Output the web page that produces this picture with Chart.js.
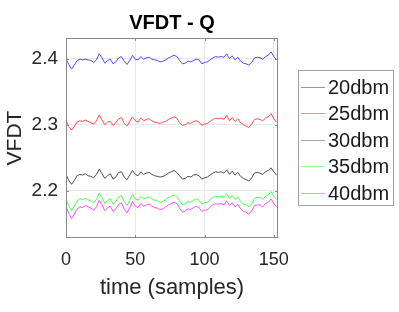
<!DOCTYPE html>
<html>
<head>
<meta charset="utf-8">
<script src="https://cdn.jsdelivr.net/npm/chart.js@4"></script>
<style>
  html, body { margin: 0; padding: 0; background: #fff; }
  canvas { display: block; }
</style>
</head>
<body>
<canvas id="vfdt" width="399" height="312"></canvas>
<script>
// sample index (every second sample)
var samples = [0,2,4,6,8,10,12,14,16,18,20,22,24,26,28,30,32,34,36,38,40,42,44,46,48,50,52,54,56,58,60,62,64,66,68,70,72,74,76,78,80,82,84,86,88,90,92,94,96,98,100,102,104,106,108,110,112,114,116,118,120,122,124,126,128,130,132,134,136,138,140,142,144,146,148,150,152];

var seriesNames = ["20dbm", "25dbm", "30dbm", "35dbm", "40dbm"];

var dbm20 = [2.399,2.391,2.384,2.390,2.397,2.399,2.398,2.399,2.398,2.397,
             2.394,2.398,2.407,2.401,2.393,2.397,2.399,2.392,2.395,2.401,
             2.403,2.396,2.391,2.397,2.405,2.399,2.398,2.403,2.399,2.401,
             2.402,2.399,2.398,2.397,2.395,2.396,2.398,2.401,2.403,2.405,
             2.403,2.397,2.392,2.393,2.396,2.395,2.397,2.399,2.398,2.392,
             2.394,2.395,2.398,2.401,2.403,2.402,2.403,2.402,2.407,2.400,
             2.404,2.398,2.402,2.396,2.393,2.392,2.390,2.394,2.401,2.402,
             2.401,2.399,2.403,2.405,2.410,2.403,2.398];
var dbm25 = [2.306,2.298,2.292,2.297,2.304,2.306,2.305,2.307,2.305,2.303,
             2.301,2.306,2.315,2.307,2.300,2.304,2.305,2.299,2.303,2.309,
             2.311,2.302,2.298,2.305,2.312,2.306,2.304,2.310,2.306,2.308,
             2.309,2.306,2.304,2.303,2.302,2.304,2.305,2.308,2.310,2.312,
             2.310,2.303,2.299,2.300,2.303,2.302,2.305,2.306,2.304,2.299,
             2.301,2.302,2.305,2.308,2.310,2.309,2.310,2.308,2.314,2.306,
             2.311,2.305,2.309,2.303,2.300,2.298,2.296,2.301,2.308,2.309,
             2.308,2.306,2.310,2.312,2.317,2.309,2.304];
var dbm30 = [2.225,2.216,2.210,2.216,2.223,2.225,2.224,2.226,2.223,2.222,
             2.220,2.225,2.233,2.226,2.219,2.223,2.226,2.218,2.221,2.228,
             2.229,2.221,2.217,2.224,2.231,2.225,2.223,2.229,2.225,2.227,
             2.228,2.225,2.223,2.222,2.221,2.222,2.224,2.227,2.229,2.231,
             2.228,2.223,2.218,2.219,2.222,2.221,2.224,2.225,2.223,2.218,
             2.220,2.221,2.224,2.227,2.229,2.228,2.229,2.227,2.232,2.225,
             2.230,2.224,2.228,2.222,2.219,2.217,2.215,2.220,2.227,2.228,
             2.227,2.225,2.229,2.231,2.235,2.229,2.224];
var dbm35 = [2.188,2.178,2.170,2.177,2.185,2.188,2.187,2.189,2.187,2.185,
             2.182,2.187,2.197,2.190,2.181,2.186,2.188,2.180,2.184,2.191,
             2.193,2.184,2.178,2.186,2.195,2.188,2.186,2.192,2.188,2.190,
             2.191,2.188,2.186,2.185,2.183,2.184,2.187,2.190,2.192,2.194,
             2.192,2.185,2.179,2.181,2.184,2.183,2.186,2.188,2.186,2.180,
             2.182,2.183,2.187,2.190,2.192,2.191,2.192,2.190,2.196,2.189,
             2.193,2.187,2.191,2.184,2.180,2.179,2.176,2.181,2.189,2.190,
             2.190,2.187,2.192,2.194,2.199,2.192,2.187];
var dbm40 = [2.177,2.166,2.158,2.165,2.173,2.176,2.175,2.178,2.176,2.174,
             2.171,2.176,2.186,2.179,2.170,2.175,2.177,2.169,2.173,2.180,
             2.182,2.173,2.167,2.175,2.184,2.177,2.175,2.181,2.177,2.179,
             2.180,2.177,2.175,2.174,2.172,2.173,2.176,2.179,2.181,2.183,
             2.181,2.174,2.168,2.170,2.173,2.172,2.175,2.177,2.175,2.169,
             2.171,2.172,2.176,2.179,2.181,2.180,2.181,2.179,2.185,2.178,
             2.182,2.176,2.180,2.173,2.169,2.168,2.165,2.170,2.178,2.179,
             2.179,2.176,2.181,2.183,2.188,2.181,2.176];

var xTicks = [0, 50, 100, 150];
var yTicks = [2.2, 2.3, 2.4];

var lineColors = ['#4d4dff', '#ff4d4d', '#4d4d4d', '#4dff4d', '#ff4dff'];
var legendColors = ['#8c8cff', '#ff8c8c', '#a6a6a6', '#8cff8c', '#ff8cff'];
var font = "'Liberation Sans', Arial, Helvetica, sans-serif";

function pts(ys) {
    return samples.map(function (s, i) { return { x: s, y: ys[i] }; });
}

var allSeries = [dbm20, dbm25, dbm30, dbm35, dbm40];
var datasets = allSeries.map(function (ys, i) {
    return {
        label: seriesNames[i],
        data: pts(ys),
        borderColor: lineColors[i],
        borderWidth: 1,
        pointRadius: 0,
        tension: 0,
        fill: false
    };
});

// matlab style box with inward ticks, title centred over the axes
var boxPlugin = {
    id: 'box',
    afterDatasetsDraw: function (chart) {
        var a = chart.chartArea, c = chart.ctx;
        var xs = chart.scales.x, ys = chart.scales.y;
        c.save();
        c.strokeStyle = '#8a8a8a';
        c.lineWidth = 1;
        c.strokeRect(a.left + 0.5, a.top + 0.5, a.right - a.left - 1, a.bottom - a.top - 1);
        c.beginPath();
        xTicks.forEach(function (v) {
            var px = Math.round(xs.getPixelForValue(v)) + 0.5;
            c.moveTo(px, a.bottom); c.lineTo(px, a.bottom - 3);
            c.moveTo(px, a.top); c.lineTo(px, a.top + 3);
        });
        yTicks.forEach(function (v) {
            var py = Math.round(ys.getPixelForValue(v)) + 0.5;
            c.moveTo(a.left, py); c.lineTo(a.left + 3, py);
            c.moveTo(a.right, py); c.lineTo(a.right - 3, py);
        });
        c.stroke();
        c.fillStyle = '#000';
        c.font = 'bold 20px ' + font;
        c.textAlign = 'center';
        c.textBaseline = 'alphabetic';
        c.fillText('VFDT - Q', (a.left + a.right) / 2, 28.5);
        c.restore();
    }
};

// boxed legend on the right
var legendPlugin = {
    id: 'boxLegend',
    afterDraw: function (chart) {
        var c = chart.ctx;
        var left = 298, top = 70, w = 95, h = 135, rowH = 26.5;
        c.save();
        c.fillStyle = '#fff';
        c.fillRect(left, top, w, h);
        c.strokeStyle = '#a0a0a0';
        c.lineWidth = 1;
        c.strokeRect(left + 0.5, top + 0.5, w, h);
        c.font = '20px ' + font;
        c.textBaseline = 'middle';
        c.textAlign = 'left';
        seriesNames.forEach(function (name, i) {
            var y = Math.round(top + 16.5 + i * rowH) + 0.5;
            c.strokeStyle = legendColors[i];
            c.beginPath();
            c.moveTo(left + 3, y);
            c.lineTo(left + 27, y);
            c.stroke();
            c.fillStyle = '#1a1a1a';
            c.fillText(name, left + 30, y + 1);
        });
        c.restore();
    }
};

var ctx = document.getElementById('vfdt').getContext('2d');
var chart = new Chart(ctx, {
    type: 'line',
    data: { datasets: datasets },
    plugins: [boxPlugin, legendPlugin],
    options: {
        responsive: false,
        animation: false,
        layout: { padding: { left: 0, right: 121, top: 38, bottom: 0 } },
        plugins: {
            legend: { display: false },
            tooltip: { enabled: false },
            title: { display: false }
        },
        scales: {
            x: {
                type: 'linear',
                min: 0,
                max: 153,
                afterFit: function (s) { s.height = 74; },
                afterBuildTicks: function (s) { s.ticks = xTicks.map(function (v) { return { value: v }; }); },
                grid: { color: '#e8e8e8', drawTicks: false },
                border: { display: false },
                ticks: {
                    color: '#262626',
                    padding: 11,
                    maxRotation: 0,
                    font: { family: font, size: 18 }
                },
                title: {
                    display: true,
                    text: 'time (samples)',
                    color: '#262626',
                    font: { family: font, size: 22 },
                    padding: { top: 0, bottom: 11 }
                }
            },
            y: {
                min: 2.129,
                max: 2.431,
                afterFit: function (s) { s.width = 66; },
                afterBuildTicks: function (s) { s.ticks = yTicks.map(function (v) { return { value: v }; }); },
                grid: { color: '#e8e8e8', drawTicks: false },
                border: { display: false },
                ticks: {
                    color: '#262626',
                    padding: 8,
                    font: { family: font, size: 19 },
                    callback: function (v) { return v.toFixed(1); }
                },
                title: {
                    display: true,
                    text: 'VFDT',
                    color: '#262626',
                    font: { family: font, size: 21 },
                    padding: { top: 3, bottom: 0 }
                }
            }
        }
    }
});
</script>
</body>
</html>
